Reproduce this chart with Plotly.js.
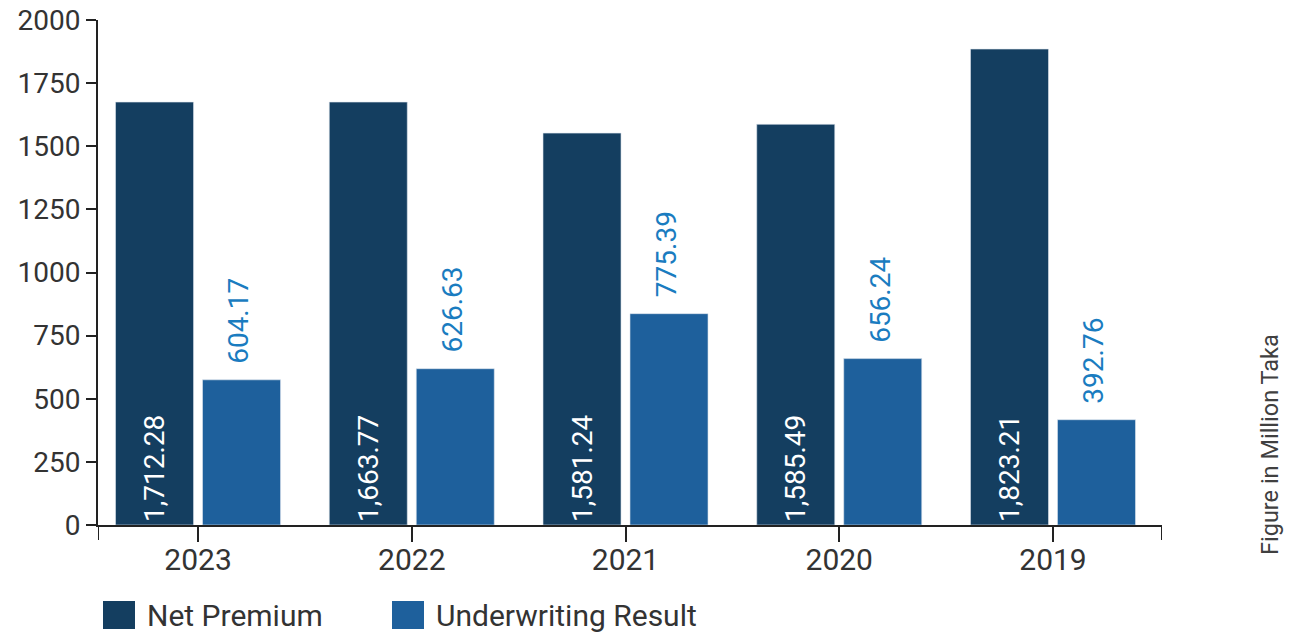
<!DOCTYPE html>
<html>
<head>
<meta charset="utf-8">
<script src="https://cdn.plot.ly/plotly-3.0.1.min.js"></script>
<style>
html, body { margin: 0; padding: 0; background: #fff; }
#chart { width: 1294px; height: 633px; }
</style>
</head>
<body>
<div id="chart"></div>
<script>
// Data
var years = ['2023', '2022', '2021', '2020', '2019'];
var netPremium = [1675, 1675, 1552, 1587, 1885];
var netPremiumLabels = ['1,712.28', '1,663.77', '1,581.24', '1,585.49', '1,823.21'];
var underwriting = [575, 619, 837, 659, 417];
var underwritingLabels = ['604.17', '626.63', '775.39', '656.24', '392.76'];
var yTicks = [0, 250, 500, 750, 1000, 1250, 1500, 1750, 2000];
var seriesNames = ['Net Premium', 'Underwriting Result'];
var sideNote = 'Figure in Million Taka';

var colNP = '#143e60';
var colUR = '#1e609c';
var colLabel = '#1a7cc0';
var txt = '#333333';
var FONT = 'Roboto, "Liberation Sans", sans-serif';

var traces = [
  {
    type: 'bar', name: seriesNames[0], x: years, y: netPremium,
    marker: { color: colNP, line: { color: '#dfe6ee', width: 0.6 } },
    text: netPremiumLabels, textposition: 'inside', insidetextanchor: 'start',
    textangle: -90, textfont: { family: FONT, size: 28, color: '#ffffff' },
    hoverinfo: 'x+y', showlegend: false
  },
  {
    type: 'bar', name: seriesNames[1], x: years, y: underwriting,
    marker: { color: colUR, line: { color: '#dfe6ee', width: 0.6 } },
    hoverinfo: 'x+y', showlegend: false
  }
];

var L = 98, R = 132, T = 20, B = 108, W = 1294, H = 633;
var pw = W - L - R, ph = H - T - B;
function px2x(p) { return (p - L) / pw; }
function py2y(p) { return (H - B - p) / ph; }

// value labels above the Underwriting bars (category index as x)
var annotations = years.map(function (yr, i) {
  return {
    x: i, y: underwriting[i], xref: 'x', yref: 'y',
    text: underwritingLabels[i], textangle: -90, showarrow: false,
    xanchor: 'center', yanchor: 'bottom', xshift: 41, yshift: 14,
    font: { family: FONT, size: 28, color: colLabel }
  };
});

annotations.push({
  x: px2x(1270), y: py2y(445), xref: 'paper', yref: 'paper', text: sideNote,
  showarrow: false, textangle: -90, xanchor: 'center', yanchor: 'middle',
  font: { family: FONT, size: 23.5, color: '#404040' }
});

// custom legend (large swatches as in reference)
var legendTextX = [145, 434];
var legendSwatchX = [103, 392];
var legendColors = [colNP, colUR];
var shapes = [];
seriesNames.forEach(function (nm, i) {
  shapes.push({
    type: 'rect', xref: 'paper', yref: 'paper',
    x0: px2x(legendSwatchX[i]), x1: px2x(legendSwatchX[i] + 32),
    y0: py2y(629), y1: py2y(601),
    fillcolor: legendColors[i], line: { width: 0 }
  });
  annotations.push({
    xref: 'paper', yref: 'paper', x: px2x(legendTextX[i]), y: py2y(615),
    text: nm, showarrow: false, xanchor: 'left', yanchor: 'middle',
    font: { family: FONT, size: 30, color: txt }
  });
});

// axis end ticks
var xRange = [-0.468, 4.51];
xRange.forEach(function (xv) {
  shapes.push({
    type: 'line', xref: 'x', yref: 'paper', x0: xv, x1: xv, y0: 0, y1: -15 / ph,
    line: { color: '#222222', width: 2 }
  });
});

var layout = {
  width: W, height: H,
  margin: { l: L, r: R, t: T, b: B, pad: 0 },
  paper_bgcolor: '#ffffff', plot_bgcolor: '#ffffff',
  barmode: 'group', bargap: 0.186, bargroupgap: 0.103,
  showlegend: false,
  font: { family: FONT, color: txt },
  xaxis: {
    type: 'category', range: xRange,
    showline: true, linecolor: '#222222', linewidth: 2,
    ticks: 'outside', ticklen: 15, tickwidth: 2, tickcolor: '#222222',
    ticklabelstandoff: -8,
    tickfont: { family: FONT, size: 30, color: txt },
    showgrid: false, zeroline: false, fixedrange: true
  },
  yaxis: {
    range: [0, 2000], tickvals: yTicks,
    showline: true, linecolor: '#222222', linewidth: 2,
    ticks: 'outside', ticklen: 10, tickwidth: 2, tickcolor: '#222222',
    tickfont: { family: FONT, size: 28, color: txt },
    showgrid: false, zeroline: false, fixedrange: true
  },
  shapes: shapes,
  annotations: annotations
};

Plotly.newPlot('chart', traces, layout, { displayModeBar: false, staticPlot: true });
</script>
</body>
</html>
